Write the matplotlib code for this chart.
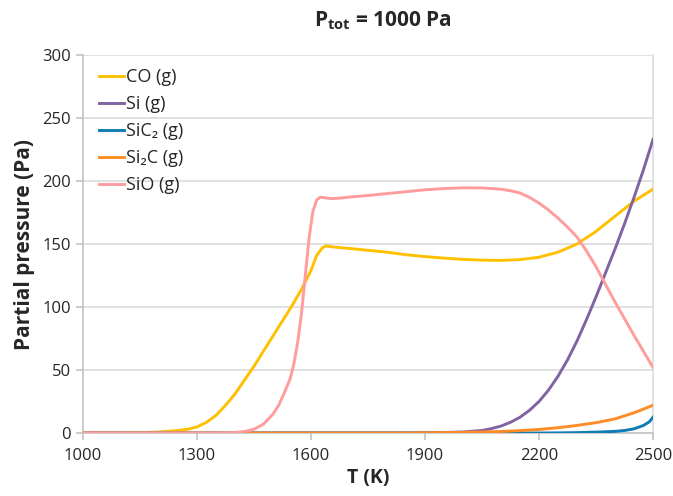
import numpy as np
import matplotlib
matplotlib.use('Agg')
import matplotlib.pyplot as plt

plt.rcParams['font.family'] = ['Open Sans', 'DejaVu Sans']
plt.rcParams['mathtext.fontset'] = 'custom'
plt.rcParams['mathtext.rm'] = 'Open Sans'
plt.rcParams['mathtext.bf'] = 'Open Sans:bold'

# data (T in K, pressure in Pa)
T_co = [1000, 1100, 1150, 1200, 1250, 1275, 1300, 1325, 1350, 1375, 1400, 1425,
        1450, 1475, 1500, 1525, 1550, 1575, 1600, 1615, 1630, 1640, 1655, 1680,
        1700, 1750, 1800, 1850, 1900, 1950, 2000, 2050, 2100, 2150, 2200, 2250,
        2300, 2350, 2400, 2450, 2500]
p_co = [0, 0.1, 0.3, 0.8, 2, 3, 4.8, 8.5, 14, 22, 31, 42,
        53, 65, 77, 89, 101, 114, 129, 141, 147, 148.5, 147.8, 147,
        146.5, 145, 143.5, 141.5, 140, 138.8, 137.8, 137.2, 137, 137.6, 139.5, 143.5,
        150, 160, 172, 184, 193.5]

T_si = [1000, 1850, 1900, 1950, 2000, 2050, 2075, 2100, 2125, 2150, 2175, 2200,
        2225, 2250, 2275, 2300, 2325, 2350, 2375, 2400, 2425, 2450, 2475, 2500]
p_si = [0, 0, 0.2, 0.4, 0.8, 2, 3.5, 5.5, 8.5, 12.5, 18, 25,
        34, 45, 58, 73, 90, 108, 127, 146, 166, 187, 209, 233]

T_sic2 = [1000, 2200, 2250, 2300, 2350, 2400, 2425, 2450, 2475, 2490, 2500]
p_sic2 = [0, 0, 0.1, 0.3, 0.7, 1.3, 2, 3.3, 6, 8.8, 12.5]

T_si2c = [1000, 1850, 1900, 2000, 2050, 2100, 2150, 2200, 2250, 2300, 2350,
          2400, 2450, 2500]
p_si2c = [0, 0, 0.2, 0.5, 0.8, 1.2, 1.9, 2.8, 4.2, 6, 8.2,
          11.2, 16, 22]

T_sio = [1000, 1350, 1400, 1425, 1450, 1475, 1500, 1515, 1530, 1545, 1555, 1565,
         1575, 1585, 1595, 1605, 1615, 1625, 1640, 1655, 1680, 1700, 1750, 1800,
         1850, 1900, 1950, 2000, 2050, 2100, 2125, 2150, 2175, 2200, 2225, 2250,
         2275, 2300, 2325, 2350, 2375, 2400, 2450, 2500]
p_sio = [0, 0, 0.4, 1.2, 3, 7, 15, 22, 32, 43, 55, 72,
         95, 125, 155, 176, 185, 187.2, 186.5, 186, 186.5, 187.2, 188.5, 190,
         191.5, 193, 194, 194.6, 194.5, 193.5, 192.3, 190.5, 187, 182.5, 177, 170.5,
         163.5, 155.5, 144.5, 132, 118, 104, 77.5, 52]

series = [
    ('CO (g)', T_co, p_co, '#FFC000'),
    ('Si (g)', T_si, p_si, '#8064A2'),
    ('SiC\u2082 (g)', T_sic2, p_sic2, '#0F7CB6'),
    ('Si\u2082C (g)', T_si2c, p_si2c, '#FF8C26'),
    ('SiO (g)', T_sio, p_sio, '#FF9C9C'),
]

fig = plt.figure(figsize=(6.73, 4.96), dpi=100)
ax = fig.add_axes([83/673, 1-433/496, 570/673, 378/496])

# low curves first so the big ones sit on top
order = [2, 3, 1, 0, 4]
for i in order:
    name, T, p, c = series[i]
    ax.plot(T, p, color=c, lw=2.1, label=name, zorder=3+i*0.1,
            solid_joinstyle='round')

ax.set_xlim(1000, 2500)
ax.set_ylim(0, 300)
ax.set_xticks(np.arange(1000, 2501, 300))
ax.set_yticks(np.arange(0, 301, 50))
ax.yaxis.grid(True, color='#D9D9D9', lw=1.1)
ax.set_axisbelow(True)
ax.spines['top'].set_visible(False)
ax.spines['right'].set_color('#D9D9D9')
ax.spines['right'].set_linewidth(1.1)
for s in ['left', 'bottom']:
    ax.spines[s].set_color('#BFBFBF')
    ax.spines[s].set_linewidth(1.1)
ax.tick_params(axis='both', colors='#BFBFBF', length=5, width=1.1,
               labelcolor='#262626', labelsize=12)
ax.tick_params(axis='x', pad=6)

ax.set_xlabel('T (K)', fontsize=14, fontweight='bold', color='#262626', labelpad=3)
ax.set_ylabel('Partial pressure (Pa)', fontsize=15, fontweight='bold',
              color='#262626', labelpad=5)

fig.text(383/673, 1-21/496, r'$\mathbf{P_{tot}}$ = 1000 Pa', ha='center', va='center',
         fontsize=15, fontweight='bold', color='#262626')

handles, labels = ax.get_legend_handles_labels()
hmap = dict(zip(labels, handles))
names = [s[0] for s in series]
leg = ax.legend([hmap[n] for n in names], names, loc='upper left',
                bbox_to_anchor=(0.015, 0.985), frameon=False, fontsize=13,
                handlelength=1.4, handletextpad=0.1, labelspacing=0.5,
                borderaxespad=0)
for t in leg.get_texts():
    t.set_color('#262626')

fig.savefig('out.png', dpi=100)
